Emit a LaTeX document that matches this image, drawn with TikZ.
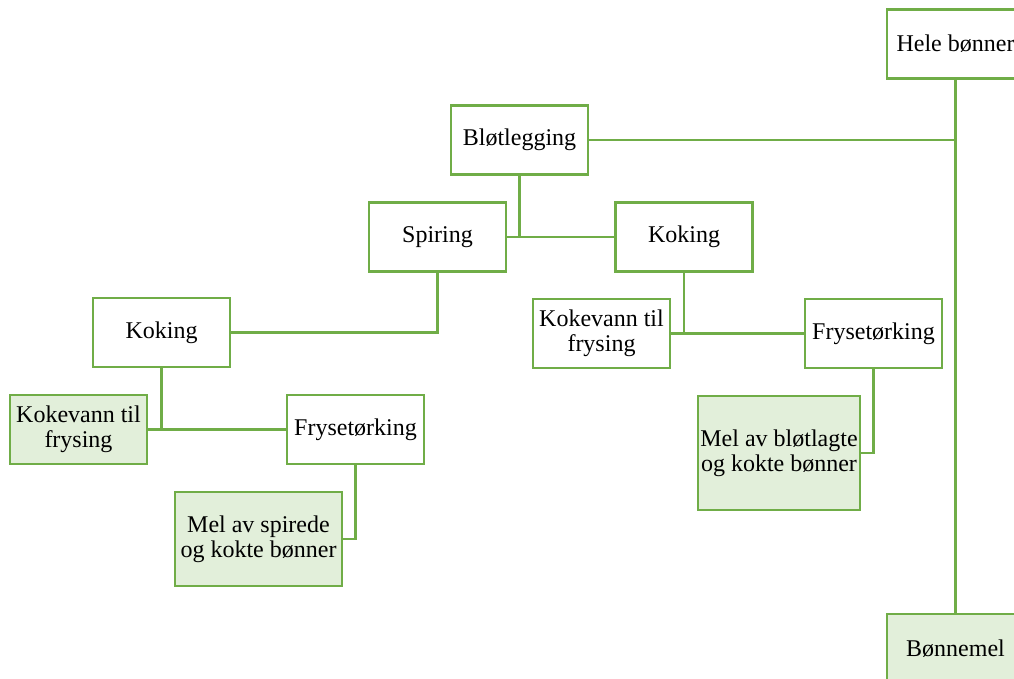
\documentclass[tikz,border=0pt]{standalone}
\usepackage{fontspec}
\setmainfont{Liberation Serif}
\definecolor{leafgreen}{RGB}{112,173,71}
\definecolor{leaffill}{RGB}{226,239,218}

\begin{document}
\begin{tikzpicture}[x=1pt,y=-1pt,
    every text node part/.style={align=center},
    every node/.style={font=\fontsize{24}{25}\selectfont},
    link/.style={draw=leafgreen,line width=2.6pt},
    stepbox/.style={draw=leafgreen,line width=2.6pt,fill=white,inner sep=2pt,minimum width=137pt,minimum height=69pt},
    leafbox/.style={stepbox,fill=leaffill}]

    \useasboundingbox (0,0) rectangle (1014,679);

    % --------------------------------------------------------- %
    % ------------- start and end (right column)
    % --------------------------------------------------------- %
    \node[stepbox] (hele) at (955.5,44) {Hele bønner};
    \node[leafbox] (bmel) at (955.5,648.5) {Bønnemel};
    \draw[link] (hele) -- (bmel);

    % --------------------------------------------------------- %
    % ------------ Soaking
    % --------------------------------------------------------- %
    \node[stepbox] (blot) at (519.5,140) {Bløtlegging};
    \coordinate (j1) at (hele.south |- blot.east);
    \draw[link] (blot) -- (j1);
    % --- Spiring node
    \node[stepbox] (spir) at (437.5,237) {Spiring};
    % --- Koking node (right)
    \node[stepbox] (kokR) at (684,237) {Koking};
    \coordinate (j2) at (blot.south |- spir.east);
    \draw[link] (blot) -- (j2);
    \draw[link] (spir) -- (kokR);

    % --------------------------------------------------------- %
    % ------------ Sprouted branch (left)
    % --------------------------------------------------------- %
    \node[stepbox] (kokL) at (161.5,332.5) {Koking};
    \draw[link] (spir.south) |- (kokL.east);
    % --- Kokevann node
    \node[leafbox] (vannL) at (78.5,429.5) {Kokevann til\\frysing};
    % --- Frysetørking node
    \node[stepbox] (frysL) at (355.5,429.5) {Frysetørking};
    \coordinate (j3) at (kokL.south |- vannL.east);
    \draw[link] (kokL) -- (j3);
    \draw[link] (vannL) -- (frysL);
    % --- Mel node
    \node[leafbox,minimum width=167pt,minimum height=94pt] (melL) at (258.5,539) {Mel av spirede\\og kokte bønner};
    \draw[link] (frysL.south) |- (melL.east);

    % --------------------------------------------------------- %
    % ------------ Soaked and boiled branch (right)
    % --------------------------------------------------------- %
    \node[stepbox] (vannR) at (601.5,333.5) {Kokevann til\\frysing};
    \node[stepbox] (frysR) at (873.5,333.5) {Frysetørking};
    \coordinate (j4) at (kokR.south |- vannR.east);
    \draw[link] (kokR) -- (j4);
    \draw[link] (vannR) -- (frysR);
    % --- Mel node
    \node[leafbox,minimum width=162pt,minimum height=114pt] (melR) at (779,453) {Mel av bløtlagte\\og kokte bønner};
    \draw[link] (frysR.south) |- (melR.east);

  \end{tikzpicture}
\end{document}
